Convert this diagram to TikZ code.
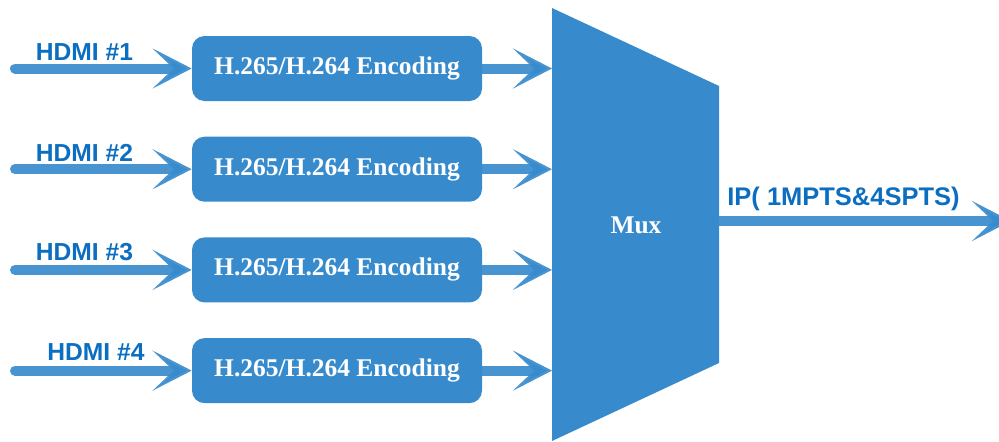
\documentclass[tikz,border=0pt]{standalone}
\usepackage{fontspec}
\setmainfont{Liberation Serif}
\newfontfamily\labelfont{Liberation Sans}
\usepackage{tikz}
\usetikzlibrary{positioning, arrows.meta}
\definecolor{muxblue}{RGB}{55,139,205}
\definecolor{textblue}{RGB}{12,110,192}
\tikzstyle{block} = [rectangle, fill=muxblue, text=white, 
minimum width=5.8cm, minimum height=1.3cm, rounded corners=0.25cm, font=\fontsize{14.5}{17}\selectfont\bfseries]
\tikzstyle{line} = [draw=muxblue, line width=0.2cm, line cap=round, opacity=0.92,
-{Stealth[length=0.78cm, width=0.8cm, inset=0.42cm]}]
\tikzstyle{source} = [text=textblue, inner sep=0pt, font=\labelfont\fontsize{14}{16}\selectfont\bfseries]
\begin{document}
\begin{tikzpicture}[node distance=0.7cm, auto]
	\useasboundingbox (0,0) rectangle (19.98,8.82);
	% Place nodes
	\node [block] (enc1) at (6.74,7.45) {H.265/H.264 Encoding};
	\node [block, below=of enc1] (enc2) {H.265/H.264 Encoding};
	\node [block, below=of enc2] (enc3) {H.265/H.264 Encoding};
	\node [block, below=of enc3] (enc4) {H.265/H.264 Encoding};
	%
	\coordinate (muxTL) at (11.04,8.66);
	\coordinate (muxTR) at (14.38,7.10);
	\coordinate (muxBR) at (14.38,1.56);
	\coordinate (muxBL) at (11.04,0);
	\fill [muxblue] (muxTL) -- (muxTR) -- (muxBR) -- (muxBL) -- cycle;
	\node [text=white, font=\fontsize{14.5}{17}\selectfont\bfseries] (mux) at (12.72,4.32) {Mux};
	%
	\node [source] (hdmi1) at (1.69,7.77) {HDMI \#1};
	\node [source] (hdmi2) at (1.69,5.77) {HDMI \#2};
	\node [source] (hdmi3) at (1.69,3.77) {HDMI \#3};
	\node [source] (hdmi4) at (1.92,1.77) {HDMI \#4};
	%
	\foreach \i in {1,...,4} {
		\coordinate (in\i) at (0.3,0 |- enc\i.west);
		\coordinate (tomux\i) at (enc\i.east -| muxTL);
		\path [line] (in\i) -- (enc\i.west);
		\path [line] (enc\i.east) -- (tomux\i);
	}
	%
	\coordinate (muxout) at (14.38,4.40);
	\coordinate (ipout) at (20.22,4.40);
	\path [line] (muxout) -- (ipout);
	\node [source, font=\labelfont\fontsize{14.5}{17}\selectfont\bfseries] (iplabel) at (16.87,4.84) {IP( 1MPTS\&4SPTS)};
\end{tikzpicture}
\end{document}
